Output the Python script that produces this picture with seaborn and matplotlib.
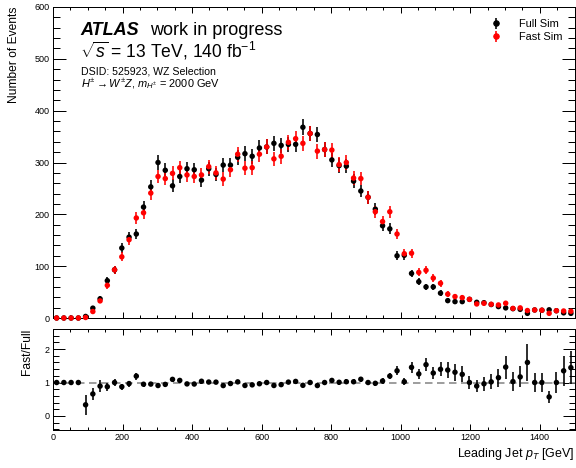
import numpy as np
import pandas as pd
import matplotlib
matplotlib.use("Agg")
import matplotlib.pyplot as plt
import seaborn as sns
from matplotlib.ticker import MultipleLocator

# ---------------- data ----------------
x_min, x_max, n_bins = 0.0, 1500.0, 72

full_sim = [0, 0, 0, 0, 3, 19, 37, 72, 93, 135,
            156, 162, 214, 253, 300, 285, 255, 273, 288, 286,
            266, 288, 277, 295, 295, 310, 317, 312, 328, 330,
            337, 333, 335, 335, 368, 356, 354, 325, 305, 294,
            293, 264, 245, 233, 210, 178, 172, 120, 121, 86,
            70, 60, 60, 48, 33.5, 31.6, 31.6, 36, 30.3, 29.5,
            26, 22, 19.5, 18, 16.7, 9, 15.5, 15, 15.8, 14,
            10, 9]
fast_sim = [0, 0, 0, 0, 1, 12.5, 33, 63, 93, 118,
            151, 193, 203, 241, 273, 269, 279, 290, 276, 273,
            276, 292, 280, 268, 286, 316, 289, 290, 316, 330,
            307, 312, 339, 346, 337, 356, 322, 325, 324, 296,
            300, 270, 269, 233, 205, 186, 205, 162, 124, 125,
            88, 92, 77, 67, 46, 41.3, 39.3, 36, 27.1, 28.4,
            26.5, 25.2, 28.5, 18.5, 19.5, 14.4, 15.5, 15, 9, 14,
            13.5, 13]
err_scale = 0.8   # statistical error ~ err_scale * sqrt(N) (weighted events)

series_labels = ["Full Sim", "Fast Sim"]
series_colors = ["black", "red"]
x_label = "Leading Jet $p_T$ [GeV]"
y_label = "Number of Events"
ratio_label = "Fast/Full"
atlas_label = "ATLAS"
atlas_suffix = "work in progress"
energy_label = r"$\sqrt{s}$ = 13 TeV, 140 fb$^{-1}$"
info_lines = ["DSID: 525923, WZ Selection",
              r"$H^{\pm} \rightarrow W^{\pm}Z$, $m_{H^{\pm}}$ = 2000 GeV"]

# ---------------- derived table ----------------
edges = np.linspace(x_min, x_max, n_bins + 1)
centers = 0.5 * (edges[:-1] + edges[1:])
full = np.array(full_sim, float)
fast = np.array(fast_sim, float)
full_err = err_scale * np.sqrt(full)
fast_err = err_scale * np.sqrt(fast)
with np.errstate(divide="ignore", invalid="ignore"):
    ratio = np.where(full > 0, fast / full, 1.0)
    rel = np.where((full > 0) & (fast > 0),
                   np.sqrt((full_err / np.where(full > 0, full, 1)) ** 2 +
                           (fast_err / np.where(fast > 0, fast, 1)) ** 2), 0.0)
ratio_err = ratio * rel

df = pd.concat([
    pd.DataFrame({"x": centers, "y": full, "err": full_err, "sample": series_labels[0]}),
    pd.DataFrame({"x": centers, "y": fast, "err": fast_err, "sample": series_labels[1]}),
])
df_ratio = pd.DataFrame({"x": centers, "r": ratio, "err": ratio_err})

# ---------------- style ----------------
sns.set_theme(style="ticks")
plt.rcParams["font.family"] = ["Liberation Sans", "DejaVu Sans"]
plt.rcParams["mathtext.fontset"] = "custom"
plt.rcParams["mathtext.rm"] = "Liberation Sans"
plt.rcParams["mathtext.it"] = "Liberation Sans:italic"
plt.rcParams["mathtext.bf"] = "Liberation Sans:bold"
plt.rcParams["axes.linewidth"] = 1.0
plt.rcParams["text.color"] = "black"
plt.rcParams["axes.labelcolor"] = "black"

W, H = 576, 468
fig = plt.figure(figsize=(W / 72, H / 72), dpi=72)
L, R = 53, 574.5
ax = fig.add_axes([L / W, 1 - 318 / H, (R - L) / W, (318 - 7) / H])
axr = fig.add_axes([L / W, 1 - 430 / H, (R - L) / W, (430 - 329) / H], sharex=ax)

# ---------------- main panel ----------------
palette = dict(zip(series_labels, series_colors))
for lab in series_labels:
    d = df[df["sample"] == lab]
    ax.errorbar(d["x"], d["y"], yerr=d["err"], fmt="none",
                ecolor=palette[lab], elinewidth=1.6, capsize=0, zorder=3,
                clip_on=False)
sns.scatterplot(data=df, x="x", y="y", hue="sample", palette=palette,
                s=30, edgecolor="none", legend=False, ax=ax, zorder=4,
                clip_on=False)

handles = []
for lab in series_labels:
    h = ax.errorbar([], [], yerr=[], fmt="o", color=palette[lab], ms=5.5,
                    elinewidth=1.6, capsize=0, label=lab)
    handles.append(h)
ax.legend(handles=handles, labels=series_labels, loc="upper right",
          bbox_to_anchor=(0.985, 0.975), frameon=False, fontsize=11,
          handlelength=1.2, handletextpad=1.5, labelspacing=0.25,
          borderaxespad=0.0)

ax.set_xlim(x_min, x_max)
ax.set_ylim(0, 600)
ax.xaxis.set_major_locator(MultipleLocator(200))
ax.xaxis.set_minor_locator(MultipleLocator(50))
ax.yaxis.set_major_locator(MultipleLocator(100))
ax.yaxis.set_minor_locator(MultipleLocator(20))
ax.tick_params(axis="x", which="both", labelbottom=False)
ax.set_xlabel("")
ax.set_ylabel(y_label, fontsize=12, loc="top")
ax.yaxis.set_label_coords(-0.064, 1.0)

tx = (80 - L) / (R - L)
ax.text(tx, (318 - 35) / 311, atlas_label, transform=ax.transAxes,
        fontsize=18, fontweight="bold", fontstyle="italic", va="baseline")
ax.text((150 - L) / (R - L), (318 - 35) / 311, atlas_suffix, transform=ax.transAxes,
        fontsize=18, va="baseline")
ax.text(tx, (318 - 57) / 311, energy_label, transform=ax.transAxes,
        fontsize=17.5, va="baseline")
ax.text(tx + 0.002, (318 - 74) / 311, info_lines[0], transform=ax.transAxes,
        fontsize=10.5, va="baseline")
ax.text(tx + 0.002, (318 - 87.5) / 311, info_lines[1], transform=ax.transAxes,
        fontsize=11, va="baseline")

# ---------------- ratio panel ----------------
axr.axhline(1.0, color="grey", lw=1.5, ls=(0, (5, 3)), zorder=1)
axr.errorbar(df_ratio["x"], df_ratio["r"], yerr=df_ratio["err"], fmt="none",
             ecolor="black", elinewidth=1.6, capsize=0, zorder=3)
sns.scatterplot(data=df_ratio, x="x", y="r", color="black", s=30,
                edgecolor="none", legend=False, ax=axr, zorder=4)
axr.set_ylim(-0.42, 2.6)
axr.yaxis.set_major_locator(MultipleLocator(1))
axr.yaxis.set_minor_locator(MultipleLocator(0.2))
axr.set_xlabel(x_label, fontsize=12.5, loc="right")
axr.xaxis.set_label_coords(1.0, -0.16)
axr.set_ylabel(ratio_label, fontsize=12, loc="top")
axr.yaxis.set_label_coords(-0.039, 1.0)

for a, ymaj, ymin in [(ax, 13, 7), (axr, 12, 6)]:
    a.tick_params(axis="both", which="both", direction="in", top=True, right=True,
                  width=1.0, colors="black", labelsize=9)
    a.tick_params(axis="x", which="major", length=6)
    a.tick_params(axis="x", which="minor", length=3)
    a.tick_params(axis="y", which="major", length=ymaj)
    a.tick_params(axis="y", which="minor", length=ymin)
    for sp in a.spines.values():
        sp.set_color("black")
        sp.set_visible(True)

fig.savefig("out.png", dpi=72)
